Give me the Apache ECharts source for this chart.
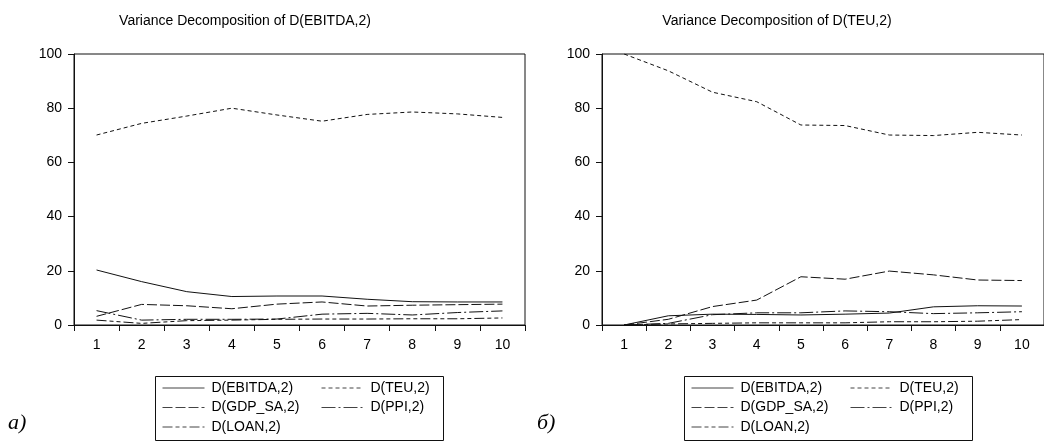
<!DOCTYPE html>
<html>
<head>
<meta charset="utf-8">
<script src="https://cdn.jsdelivr.net/npm/echarts@6/dist/echarts.min.js"></script>
<style>
html,body{margin:0;padding:0;background:#fff;}
#chart{width:1044px;height:443px;}
</style>
</head>
<body>
<div id="chart"></div>
<script>
// periods on the x axis
var periods = ['1', '2', '3', '4', '5', '6', '7', '8', '9', '10'];
var yTicks = [0, 20, 40, 60, 80, 100];

// panel a) Variance Decomposition of D(EBITDA,2)
var leftEbitda = [20.3, 16.0, 12.3, 10.5, 10.7, 10.7, 9.5, 8.6, 8.5, 8.5];
var leftTeu    = [70.1, 74.4, 77.1, 80.0, 77.5, 75.2, 77.7, 78.6, 77.9, 76.6];
var leftGdp    = [3.2, 7.6, 7.1, 6.0, 7.7, 8.5, 7.0, 7.3, 7.5, 7.7];
var leftPpi    = [5.3, 1.8, 2.1, 2.1, 2.2, 4.0, 4.3, 3.7, 4.6, 5.2];
var leftLoan   = [1.8, 0.6, 1.6, 1.8, 2.1, 2.2, 2.2, 2.3, 2.3, 2.6];

// panel б) Variance Decomposition of D(TEU,2)
var rightEbitda = [0, 3.4, 4.0, 3.9, 3.7, 4.0, 4.4, 6.7, 7.1, 7.0];
var rightTeu    = [100, 93.8, 85.9, 82.4, 73.8, 73.6, 70.1, 69.9, 71.1, 70.1];
var rightGdp    = [0, 2.1, 6.8, 9.2, 17.8, 16.9, 19.9, 18.5, 16.6, 16.4];
var rightPpi    = [0, 0.6, 3.8, 4.5, 4.5, 5.2, 4.9, 4.2, 4.5, 4.9];
var rightLoan   = [0, 0.4, 0.6, 0.8, 0.8, 0.8, 1.2, 1.2, 1.4, 2.0];

var names = ['D(EBITDA,2)', 'D(TEU,2)', 'D(GDP_SA,2)', 'D(PPI,2)', 'D(LOAN,2)'];
var dashes = ['solid', [4, 3], [10, 3], [14, 3, 2, 3], [10, 3, 4, 3, 4, 3]];

var FONT = 'Liberation Sans, Arial, sans-serif';
var INK = '#111';

var dom = document.getElementById('chart');
var myChart = echarts.init(dom, null, {renderer: 'canvas'});

function makeAxes(idx) {
    return {
        x: {
            type: 'category', gridIndex: idx, data: periods, boundaryGap: true,
            axisLine: {lineStyle: {color: INK, width: 1}},
            axisTick: {show: true, inside: false, length: 6, lineStyle: {color: INK}},
            axisLabel: {color: '#000', fontFamily: FONT, fontSize: 14, margin: 13, interval: 0},
            splitLine: {show: false}
        },
        y: {
            type: 'value', gridIndex: idx, min: yTicks[0], max: yTicks[yTicks.length - 1], interval: 20,
            axisLine: {show: true, lineStyle: {color: INK, width: 1}},
            axisTick: {show: true, inside: false, length: 6, lineStyle: {color: INK}},
            axisLabel: {color: '#000', fontFamily: FONT, fontSize: 14, margin: 12},
            splitLine: {show: false}
        }
    };
}

function makeSeries(idx, arrays) {
    return arrays.map(function (arr, i) {
        return {
            name: names[i], type: 'line', xAxisIndex: idx, yAxisIndex: idx,
            data: arr, symbol: 'none', smooth: false, animation: false,
            lineStyle: {color: INK, width: 1, type: dashes[i]},
            itemStyle: {color: INK}
        };
    });
}

function makeLegends(boxLeft) {
    var common = {
        orient: 'vertical', top: 381, padding: 0, itemWidth: 42, itemHeight: 14, itemGap: 5.5,
        selectedMode: false,
        itemStyle: {opacity: 0},
        lineStyle: {opacity: 1, width: 1, color: '#444'},
        textStyle: {color: '#000', fontFamily: FONT, fontSize: 14, padding: [0, 0, 0, 2]}
    };
    var a = Object.assign({}, common, {left: boxLeft + 9, data: [names[0], names[2], names[4]]});
    var b = Object.assign({}, common, {left: boxLeft + 168, data: [names[1], names[3]]});
    return [a, b];
}

var axL = makeAxes(0), axR = makeAxes(1);

var option = {
    backgroundColor: '#fff',
    animation: false,
    title: [
        {text: 'Variance Decomposition of D(EBITDA,2)', left: 240, top: 9, textAlign: 'center',
         textStyle: {color: '#000', fontFamily: FONT, fontSize: 14, fontWeight: 'normal'}},
        {text: 'Variance Decomposition of D(TEU,2)', left: 772, top: 9, textAlign: 'center',
         textStyle: {color: '#000', fontFamily: FONT, fontSize: 14, fontWeight: 'normal'}}
    ],
    grid: [
        {left: 74, top: 54, width: 451, height: 271, show: true, borderColor: INK, borderWidth: 1, backgroundColor: 'transparent'},
        {left: 602, top: 54, width: 450, height: 271, show: true, borderColor: INK, borderWidth: 1, backgroundColor: 'transparent'}
    ],
    xAxis: [axL.x, axR.x],
    yAxis: [axL.y, axR.y],
    legend: makeLegends(153).concat(makeLegends(682)),
    series: makeSeries(0, [leftEbitda, leftTeu, leftGdp, leftPpi, leftLoan])
        .concat(makeSeries(1, [rightEbitda, rightTeu, rightGdp, rightPpi, rightLoan])),
    graphic: [
        {type: 'rect', left: 153, top: 374, shape: {width: 288, height: 64},
         style: {fill: 'none', stroke: INK, lineWidth: 1}},
        {type: 'rect', left: 682, top: 374, shape: {width: 288, height: 64},
         style: {fill: 'none', stroke: INK, lineWidth: 1}},
        {type: 'text', left: 8, top: 412,
         style: {text: 'a)', fill: '#000', font: 'italic 22px "Liberation Serif", "DejaVu Serif", serif'}},
        {type: 'text', left: 537, top: 412,
         style: {text: 'б)', fill: '#000', font: 'italic 22px "Liberation Serif", "DejaVu Serif", serif'}}
    ]
};

myChart.setOption(option);
</script>
</body>
</html>
